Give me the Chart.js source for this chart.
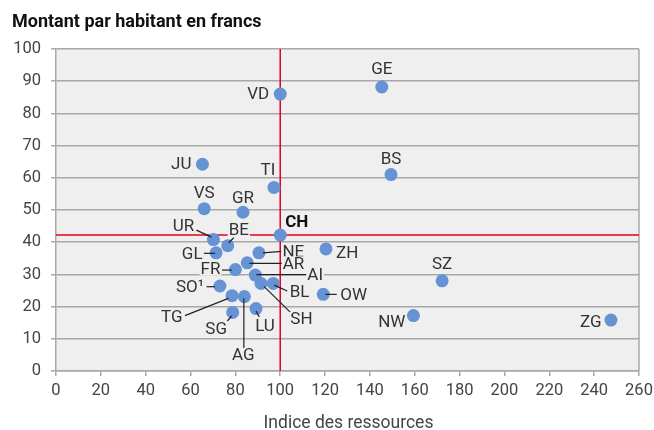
<!DOCTYPE html>
<html>
<head>
<meta charset="utf-8">
<script src="https://cdn.jsdelivr.net/npm/chart.js@4/dist/chart.umd.min.js"></script>
<style>
html,body{margin:0;padding:0;background:#fff;}
#wrap{width:654px;height:430px;position:relative;}
</style>
</head>
<body>
<div id="wrap"><canvas id="c" width="654" height="430"></canvas></div>
<script>
// ---- Data ----
const cantons = ["GE","VD","BS","JU","TI","VS","GR","CH","UR","BE","GL","NE","ZH","AR","FR","AI","SH","BL","SO¹","OW","TG","AG","SG","LU","SZ","NW","ZG"];
const resourceIndex = [145.3,100.0,149.4,65.3,97.2,66.1,83.4,100.0,70.2,76.6,71.4,90.5,120.4,85.3,80.0,88.9,91.4,96.9,73.1,119.2,78.5,84.0,78.8,89.2,172.2,159.4,247.5];
const amountPerCapita = [88.2,86.0,61.0,64.2,57.0,50.4,49.3,42.2,40.8,38.9,36.7,36.7,37.9,33.6,31.5,29.8,27.2,27.2,26.4,23.8,23.4,23.1,18.2,19.4,28.0,17.2,15.8];
const xTicks = [0,20,40,60,80,100,120,140,160,180,200,220,240,260];
const yTicks = [0,10,20,30,40,50,60,70,80,90,100];
const chartTitle = "Montant par habitant en francs";
const xAxisTitle = "Indice des ressources";
const refCode = "CH";

// ---- Label placement (pixel offsets relative to each point) ----
const labelLayout = {
  "GE":{dx:0,dy:-18,a:"center"},
  "VD":{dx:-11,dy:0,a:"right"},
  "BS":{dx:0,dy:-16,a:"center"},
  "JU":{dx:-11,dy:-1,a:"right"},
  "TI":{dx:-6,dy:-18,a:"center"},
  "VS":{dx:0,dy:-16,a:"center"},
  "GR":{dx:0,dy:-15,a:"center"},
  "CH":{dx:5,dy:-13,a:"left",bold:true},
  "UR":{dx:-30,dy:-14,a:"center",line:[-17,-9.5,-2,-2.5]},
  "BE":{dx:11,dy:-16,a:"center",line:[1,-3,6,-8]},
  "GL":{dx:-13.5,dy:0.5,a:"right",line:[-12.5,0.5,-1,0.5]},
  "NE":{dx:23.5,dy:-1.5,a:"left",line:[4,0,22.5,-1.5]},
  "ZH":{dx:10,dy:3.5,a:"left"},
  "AR":{dx:35.5,dy:0.5,a:"left",line:[2,0.5,35,0.5]},
  "FR":{dx:-15,dy:-1,a:"right",line:[-13.5,0.5,-3.5,0.5]},
  "AI":{dx:52,dy:-0.5,a:"left",line:[1,-0.5,51,-0.5]},
  "SH":{dx:40.5,dy:35.5,a:"center",line:[3,3,30.5,30]},
  "BL":{dx:16.5,dy:8.5,a:"left",line:[1,1.7,14,7.6]},
  "SO¹":{dx:-16,dy:0.7,a:"right",line:[-13.3,0.7,-5,0.7]},
  "OW":{dx:17,dy:0,a:"left",line:[2,0,13.5,0]},
  "TG":{dx:-49.5,dy:21,a:"right",line:[-47,20,-3.7,2.7]},
  "AG":{dx:-1,dy:58.5,a:"center",line:[-0.5,2,-0.5,52]},
  "SG":{dx:-16.5,dy:16,a:"center",line:[-5.4,8.6,-1,3.6]},
  "LU":{dx:9,dy:17.5,a:"center",line:[0,2.6,3.3,8.3]},
  "SZ":{dx:0,dy:-17,a:"center"},
  "NW":{dx:-8,dy:6,a:"right"},
  "ZG":{dx:-9.5,dy:1.5,a:"right"}
};

const FONT = "Roboto, 'Liberation Sans', sans-serif";
const PLOT_BG = "#efefef";
const GRID = "#a8a8a8";
const RED = "#e2001a";
const DOT = "#6593d4";
const TEXT = "#333333";

const points = cantons.map((c,i)=>({x:resourceIndex[i], y:amountPerCapita[i]}));
const refIdx = cantons.indexOf(refCode);

const decor = {
  id:"decor",
  beforeDraw(chart){
    const {ctx, chartArea:a} = chart;
    ctx.save();
    ctx.fillStyle = PLOT_BG;
    ctx.fillRect(a.left, a.top, a.right-a.left, a.bottom-a.top);
    ctx.restore();
  },
  beforeDatasetsDraw(chart){
    const {ctx, chartArea:a, scales} = chart;
    ctx.save();
    ctx.strokeStyle = GRID; ctx.lineWidth = 1.5;
    ctx.beginPath(); ctx.moveTo(a.right, a.top); ctx.lineTo(a.right, a.bottom); ctx.stroke();
    const rx = scales.x.getPixelForValue(resourceIndex[refIdx]);
    const ry = scales.y.getPixelForValue(amountPerCapita[refIdx]);
    ctx.strokeStyle = RED; ctx.lineWidth = 1.5;
    ctx.beginPath(); ctx.moveTo(rx, a.top); ctx.lineTo(rx, a.bottom); ctx.stroke();
    ctx.beginPath(); ctx.moveTo(a.left, ry); ctx.lineTo(a.right, ry); ctx.stroke();
    ctx.restore();
  },
  afterDatasetsDraw(chart){
    const {ctx, scales} = chart;
    ctx.save();
    ctx.strokeStyle = "#222"; ctx.lineWidth = 1.2;
    cantons.forEach((c,i)=>{
      const L = labelLayout[c]; if(!L || !L.line) return;
      const px = scales.x.getPixelForValue(resourceIndex[i]);
      const py = scales.y.getPixelForValue(amountPerCapita[i]);
      ctx.beginPath();
      ctx.moveTo(px+L.line[0], py+L.line[1]);
      ctx.lineTo(px+L.line[2], py+L.line[3]);
      ctx.stroke();
    });
    ctx.textBaseline = "middle";
    cantons.forEach((c,i)=>{
      const L = labelLayout[c]; if(!L) return;
      const px = scales.x.getPixelForValue(resourceIndex[i]);
      const py = scales.y.getPixelForValue(amountPerCapita[i]);
      ctx.font = (L.bold ? "bold " : "") + "17px " + FONT;
      const w = ctx.measureText(c).width;
      const tx = px + L.dx, ty = py + L.dy;
      let left = L.a==="left" ? tx : (L.a==="right" ? tx-w : tx-w/2);
      ctx.fillStyle = PLOT_BG;
      ctx.fillRect(left-1, ty-7, w+2, 14);
      ctx.fillStyle = L.bold ? "#111" : TEXT;
      ctx.textAlign = L.a;
      ctx.fillText(c, tx, ty+1);
    });
    ctx.restore();
  },
  afterDraw(chart){
    const {ctx, chartArea:a} = chart;
    ctx.save();
    ctx.fillStyle = "#111";
    ctx.font = "bold 18px " + FONT;
    ctx.textAlign = "left"; ctx.textBaseline = "alphabetic";
    ctx.fillText(chartTitle, 12, 27);
    ctx.fillStyle = "#444";
    ctx.font = "17.5px " + FONT;
    ctx.textAlign = "center";
    ctx.fillText(xAxisTitle, (a.left+a.right)/2 + 1, 428);
    ctx.restore();
  }
};

new Chart(document.getElementById("c"), {
  type:"scatter",
  data:{ datasets:[{ data: points, backgroundColor: DOT, borderWidth:0, pointRadius:6.5, pointHoverRadius:6.5 }] },
  options:{
    responsive:false, animation:false, devicePixelRatio:1,
    layout:{ padding:{ top:49, right:15, left:0, bottom:0 } },
    plugins:{ legend:{display:false}, tooltip:{enabled:false}, title:{display:false} },
    scales:{
      x:{
        type:"linear", min:0, max:260,
        afterBuildTicks(s){ s.ticks = xTicks.map(v=>({value:v})); },
        afterFit(s){ s.height = 59; s.paddingLeft = 0; s.paddingRight = 0; },
        grid:{ drawOnChartArea:false, drawTicks:true, tickLength:5, color:GRID, lineWidth:1.5 },
        border:{ color:GRID, width:1.5 },
        ticks:{ font:{family:FONT, size:16.5}, color:"#444", padding:5, maxRotation:0, autoSkip:false }
      },
      y:{
        type:"linear", min:0, max:100,
        afterBuildTicks(s){ s.ticks = yTicks.map(v=>({value:v})); },
        afterFit(s){ s.width = 56; s.paddingTop = 0; s.paddingBottom = 0; },
        grid:{ drawOnChartArea:true, drawTicks:true, tickLength:5, color:GRID, lineWidth:1.5 },
        border:{ color:GRID, width:1.5 },
        ticks:{ font:{family:FONT, size:16.5}, color:"#444", padding:10, autoSkip:false }
      }
    }
  },
  plugins:[decor]
});
</script>
</body>
</html>
